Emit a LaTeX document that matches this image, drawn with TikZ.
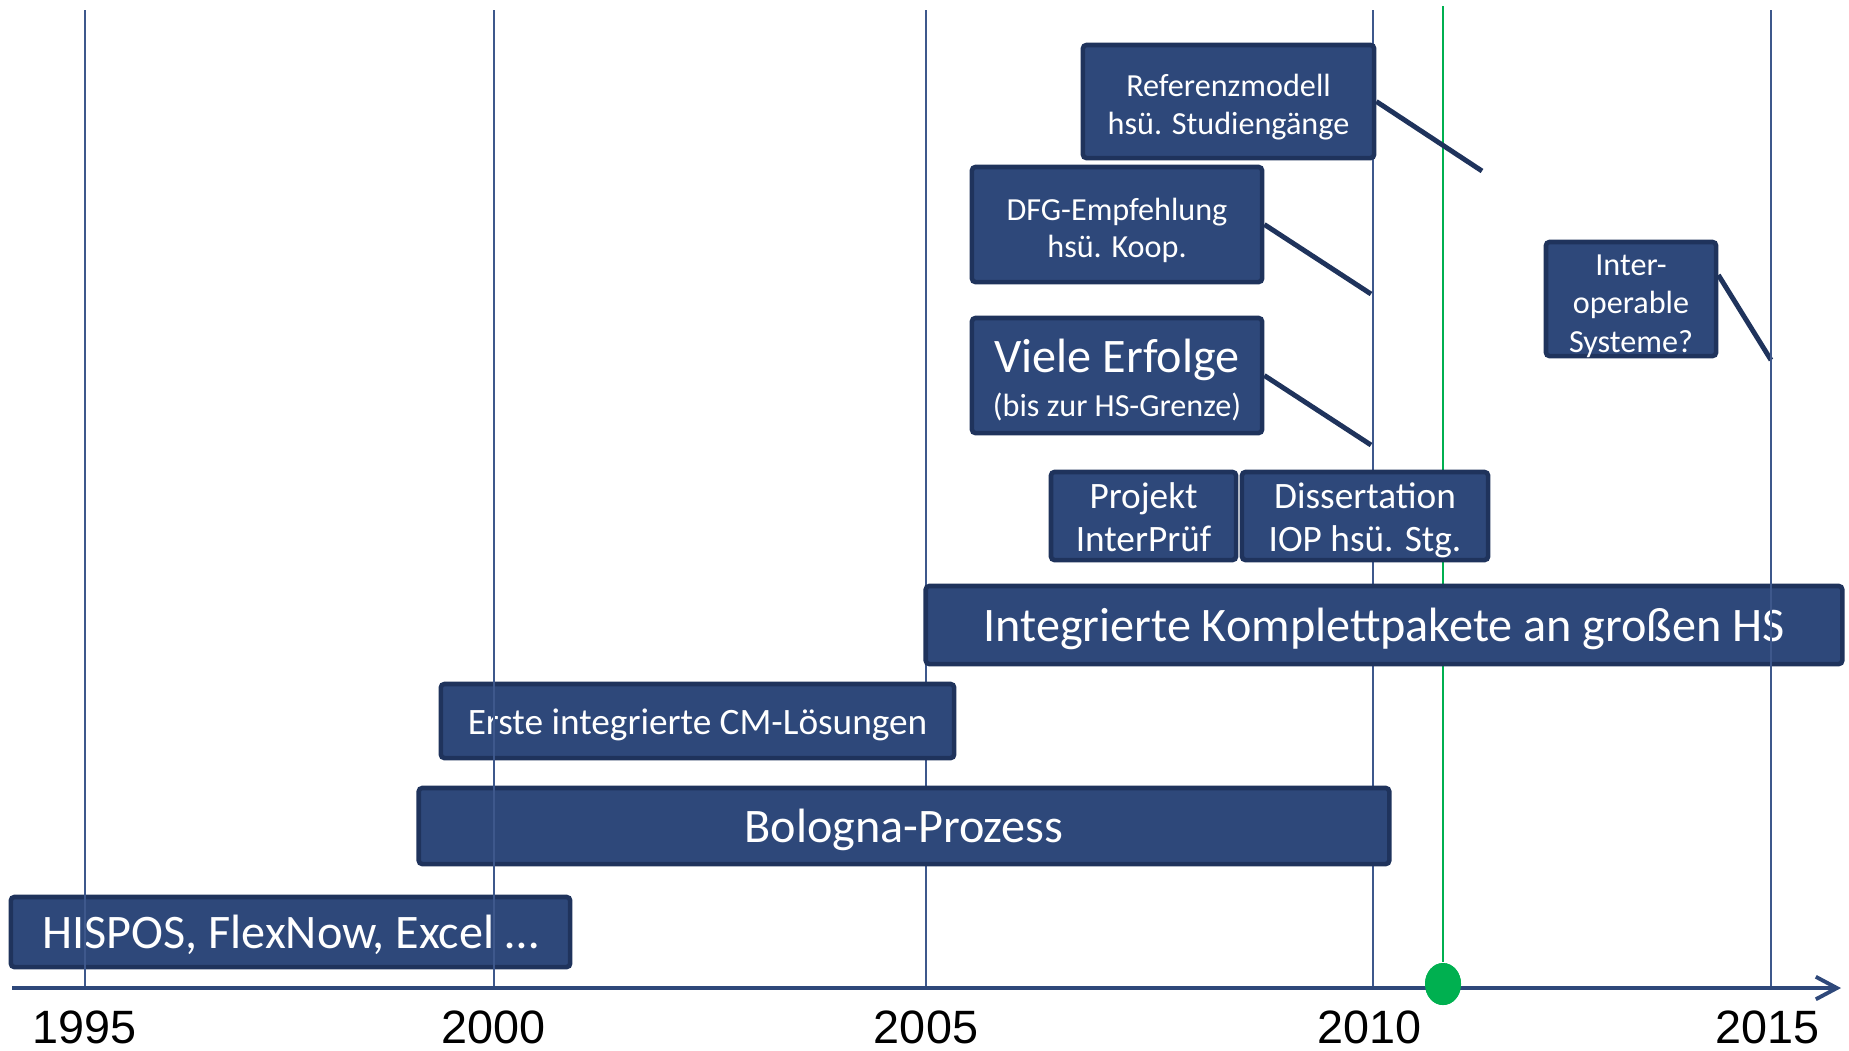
\documentclass[tikz,border=0pt]{standalone}
\usepackage{fontspec}
\setmainfont{Carlito}
\newfontfamily\yearfont{Liberation Sans}
\usetikzlibrary{arrows.meta,shapes.geometric}

\definecolor{boxfill}{RGB}{46,72,122}
\definecolor{boxline}{RGB}{31,51,92}
\definecolor{yrline}{RGB}{62,88,140}
\definecolor{nowgreen}{RGB}{0,176,80}

\newcommand{\topgap}[1]{\rule{0pt}{#1}}

\tikzset{
  box/.style={draw=boxline, fill=boxfill, line width=1.3pt, rounded corners=1pt,
    text=white, align=center, inner xsep=0pt, inner ysep=-6pt,
    execute at begin node={\rule{0pt}{1.0em}},
    execute at end node={\rule[-0.3em]{0pt}{0pt}}},
  bigtxt/.style={font=\fontsize{13.7}{16.4}\selectfont},
  midtxt/.style={font=\fontsize{10.6}{12.5}\selectfont},
  smalltxt/.style={font=\fontsize{9.15}{10.8}\selectfont},
  callout/.style={draw=boxline, line width=1.4pt},
  yearline/.style={draw=yrline, line width=0.6pt},
  year/.style={font=\yearfont\fontsize{13.3}{16}\selectfont}
}

\begin{document}
\begin{tikzpicture}[x=0.01cm, y=-0.01cm]
  \useasboundingbox (0,0) rectangle (1849,1050);

  % lines behind the boxes
  \foreach \yr/\xx in {2005/926, 2010/1373} {
    \coordinate (t\yr) at (\xx,10);
    \coordinate (b\yr) at (\xx,987);
    \draw[yearline] (t\yr) -- (b\yr);
  }
  \node[ellipse, fill=nowgreen, minimum width=0.36cm, minimum height=0.42cm, inner sep=0pt] (now) at (1443,984) {};
  \coordinate (nowtop) at (1443,6);
  \draw[nowgreen, line width=0.6pt] (nowtop) -- (now);

  % boxes
  \node[box, smalltxt, minimum width=2.91cm, minimum height=1.13cm] (ref) at (1228.5,101.5) {\topgap{1.15em}Referenzmodell\\hsü. Studiengänge};
  \node[box, smalltxt, minimum width=2.90cm, minimum height=1.15cm] (dfg) at (1117,224.5) {\topgap{1.2em}DFG-Empfehlung\\hsü. Koop.};
  \node[box, font=\fontsize{9.15}{12.6}\selectfont, minimum width=2.90cm, minimum height=1.15cm] (viele) at (1117,375.5) {\fontsize{13.7}{16.4}\selectfont\topgap{1.0em}Viele Erfolge\\(bis zur HS-Grenze)};
  \node[box, font=\fontsize{9.15}{10.9}\selectfont, minimum width=1.70cm, minimum height=1.14cm] (inter) at (1631,299) {\topgap{1.22em}Inter-\\operable\\Systeme?};
  \node[box, midtxt, minimum width=1.85cm, minimum height=0.88cm] (projekt) at (1143.5,516) {\topgap{1.05em}Projekt\\InterPrüf};
  \node[box, midtxt, minimum width=2.46cm, minimum height=0.88cm] (diss) at (1365,516) {\topgap{1.05em}Dissertation\\IOP hsü. Stg.};
  \node[box, bigtxt, minimum width=9.16cm, minimum height=0.78cm] (komplett) at (1384,625) {Integrierte Komplettpakete an großen HS};
  \node[box, font=\fontsize{10.6}{12.6}\selectfont, minimum width=5.13cm, minimum height=0.74cm] (erste) at (697.5,721) {Erste integrierte CM-Lösungen};
  \node[box, bigtxt, minimum width=9.70cm, minimum height=0.76cm] (bologna) at (904,826) {Bologna-Prozess};
  \node[box, bigtxt, minimum width=5.59cm, minimum height=0.70cm] (hispos) at (290.5,932) {HISPOS, FlexNow, Excel …};

  % callouts
  \coordinate (refend) at (1482,171);
  \coordinate (dfgend) at (1371,294);
  \coordinate (vieleend) at (1371,445);
  \coordinate (interend) at (1771,360);
  \draw[callout] (ref.east) -- (refend);
  \draw[callout] (dfg.east) -- (dfgend);
  \draw[callout] (viele.east) -- (vieleend);
  \draw[callout] ([yshift=0.24cm]inter.east) -- (interend);

  % lines over the boxes
  \foreach \yr/\xx in {1995/85, 2000/494, 2015/1771} {
    \coordinate (t\yr) at (\xx,10);
    \coordinate (b\yr) at (\xx,987);
    \draw[yearline] (t\yr) -- (b\yr);
  }

  % axis
  \coordinate (axstart) at (12,988);
  \coordinate (axend) at (1841,988);
  \draw[draw=boxfill, line width=1.1pt, -{Straight Barb[length=6pt,width=6.4pt]}] (axstart) -- (axend);
  \fill[nowgreen] (now.center) ellipse [x radius=0.18cm, y radius=0.21cm];

  % years
  \node[year] (l1995) at (85,1027) {1995};
  \node[year] (l2000) at (494,1027) {2000};
  \node[year] (l2005) at (926,1027) {2005};
  \node[year] (l2010) at (1369,1027) {2010};
  \node[year] (l2015) at (1767,1027) {2015};
\end{tikzpicture}
\end{document}
